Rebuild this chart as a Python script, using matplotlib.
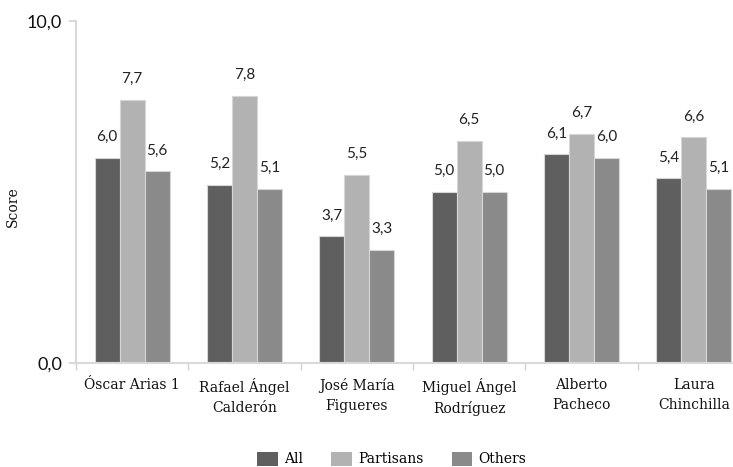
import matplotlib
matplotlib.use('Agg')
import matplotlib.pyplot as plt
import numpy as np

# candidatos y puntajes
candidates = ['Óscar Arias 1', 'Rafael Ángel\nCalderón', 'José María\nFigueres',
              'Miguel Ángel\nRodríguez', 'Alberto\nPacheco', 'Laura\nChinchilla']
series_names = ['All', 'Partisans', 'Others']
all_scores = [6.0, 5.2, 3.7, 5.0, 6.1, 5.4]
partisans = [7.7, 7.8, 5.5, 6.5, 6.7, 6.6]
others = [5.6, 5.1, 3.3, 5.0, 6.0, 5.1]
colors = ['#5f5f5f', '#b2b2b2', '#8a8a8a']

serif = 'DejaVu Serif'
sans = 'Lato'

fig = plt.figure(figsize=[7.33, 4.67], dpi=100)
ax = fig.add_axes([76 / 733, 1 - 363 / 467, 674 / 733, 342 / 467])

x = np.arange(len(candidates))
w = 0.222
for i, (vals, name) in enumerate(zip([all_scores, partisans, others], series_names)):
    pos = x + (i - 1) * w
    ax.bar(pos, vals, width=w, color=colors[i], edgecolor='#d6d6d6', linewidth=0.8, label=name)
    for px, v in zip(pos, vals):
        ax.annotate(('%.1f' % v).replace('.', ','), (px, v), xytext=(0, 10),
                    textcoords='offset points', ha='center', va='bottom',
                    fontsize=11, family=sans, color='#222222')

ax.set_xlim(-0.5, len(candidates) - 0.5)
ax.set_ylim(0, 10)

for s in ['top', 'right']:
    ax.spines[s].set_visible(False)
for s in ['left', 'bottom']:
    ax.spines[s].set_color('#d9d9d9')
    ax.spines[s].set_linewidth(1.5)

ax.set_yticks([0, 10])
ax.set_yticklabels(['0,0', '10,0'], family=sans, fontsize=13, color='#111111')
ax.tick_params(axis='y', length=5, width=1.5, color='#d9d9d9', pad=5)

ax.set_xticks(x)
ax.set_xticklabels(candidates, family=serif, fontsize=10, color='#111111', linespacing=1.5)
ax.tick_params(axis='x', which='major', length=0, pad=11)
ax.set_xticks(np.arange(-0.5, len(candidates) + 0.5, 1), minor=True)
ax.tick_params(axis='x', which='minor', length=5, width=1, color='#d0d0d0')

ax.set_ylabel('Score', family=serif, fontsize=10, color='#111111')
ax.yaxis.set_label_coords(-56 / 674, 0.456)

leg = fig.legend(loc='center', bbox_to_anchor=(392 / 733, 1 - 459 / 467), ncol=3,
                 frameon=False, prop={'family': serif, 'size': 10},
                 handlelength=1.5, handleheight=1.2, columnspacing=2.0, handletextpad=0.45)
for h in leg.legend_handles:
    h.set_edgecolor('none')

fig.savefig('out.png', dpi=100)
